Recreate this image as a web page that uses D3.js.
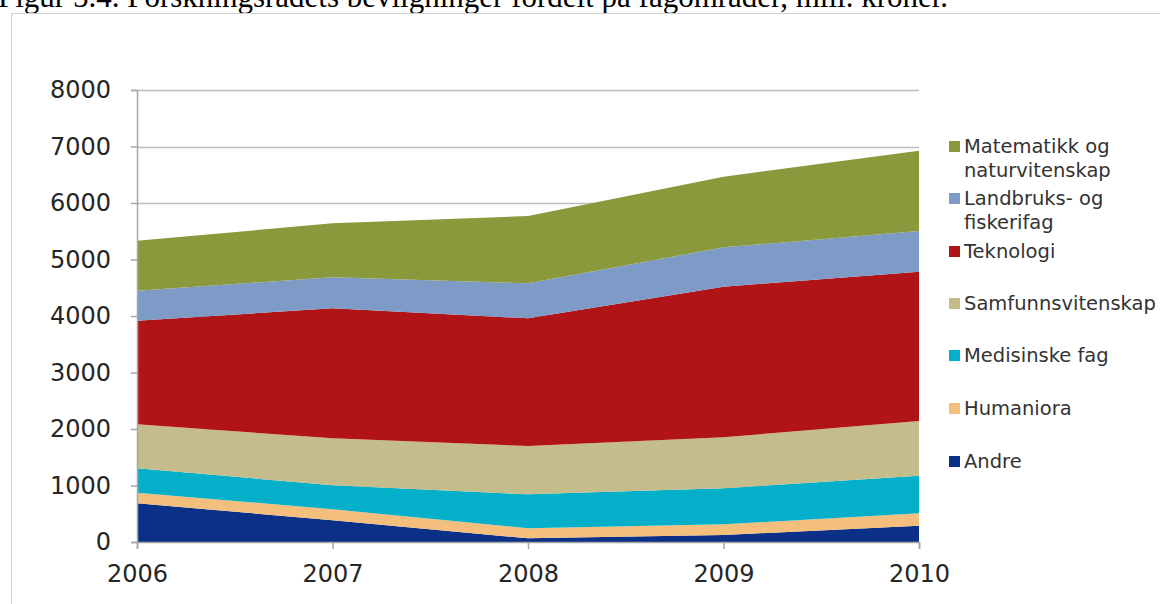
<!DOCTYPE html>
<html>
<head>
<meta charset="utf-8">
<script src="https://cdn.jsdelivr.net/npm/d3@7"></script>
<style>
  body { margin: 0; background: #fff; }
  svg { display: block; }
</style>
</head>
<body>
<svg id="chart" width="1160" height="604"></svg>
<script>
// data (mill. kroner)
const years = [2006, 2007, 2008, 2009, 2010];
const andre = [685, 385, 65, 124, 289];
const humaniora = [188, 195, 177, 189, 219];
const medisinske = [431, 425, 602, 637, 666];
const samfunn = [779, 830, 855, 903, 968];
const teknologi = [1834, 2301, 2260, 2666, 2643];
const landbruk = [531, 549, 619, 696, 719];
const matematikk = [885, 955, 1192, 1251, 1422];
const yTicks = [0, 1000, 2000, 3000, 4000, 5000, 6000, 7000, 8000];

const series = [
  { key: 'andre', label: ['Andre'], values: andre, color: '#0b3088' },
  { key: 'hum', label: ['Humaniora'], values: humaniora, color: '#f4be7d' },
  { key: 'med', label: ['Medisinske fag'], values: medisinske, color: '#04b0c9' },
  { key: 'sam', label: ['Samfunnsvitenskap'], values: samfunn, color: '#c5bc8b' },
  { key: 'tek', label: ['Teknologi'], values: teknologi, color: '#b11416' },
  { key: 'land', label: ['Landbruks- og', 'fiskerifag'], values: landbruk, color: '#7e9bc8' },
  { key: 'mat', label: ['Matematikk og', 'naturvitenskap'], values: matematikk, color: '#8a993b' }
];

const rows = years.map((y, i) => {
  const r = { year: y };
  series.forEach(s => r[s.key] = s.values[i]);
  return r;
});

const svg = d3.select('#chart');

// title (cut off at the top in the original)
svg.append('text')
  .attr('x', -2)
  .attr('y', 7)
  .attr('font-family', '"Liberation Serif", "Times New Roman", serif')
  .attr('font-size', 31)
  .attr('fill', '#000')
  .text('Figur 5.4. Forskningsrådets bevilgninger fordelt på fagområder, mill. kroner.');

// chart frame
svg.append('rect')
  .attr('x', 11.5).attr('y', 13.5)
  .attr('width', 1200).attr('height', 700)
  .attr('fill', 'none')
  .attr('stroke', '#d0d0d0');

const x = d3.scaleLinear().domain([2006, 2010]).range([137, 919]);
const y = d3.scaleLinear().domain([0, 8000]).range([542, 90]);

// gridlines
svg.append('g')
  .selectAll('line')
  .data(yTicks.filter(d => d > 0))
  .join('line')
  .attr('x1', 137).attr('x2', 919)
  .attr('y1', d => Math.round(y(d)) + 0.5)
  .attr('y2', d => Math.round(y(d)) + 0.5)
  .attr('stroke', '#bdbdbd')
  .attr('stroke-width', 1.5);

const stack = d3.stack().keys(series.map(s => s.key));
const layers = stack(rows);

const area = d3.area()
  .x(d => x(d.data.year))
  .y0(d => y(d[0]))
  .y1(d => y(d[1]));

svg.append('g')
  .selectAll('path')
  .data(layers)
  .join('path')
  .attr('fill', (d, i) => series[i].color)
  .attr('d', area);

// y axis
const yAxis = svg.append('g')
  .attr('transform', 'translate(137,0)')
  .call(d3.axisLeft(y).tickValues(yTicks).tickSize(6).tickPadding(20).tickFormat(d3.format('d')));
yAxis.select('.domain').attr('stroke', '#a6a6a6').attr('stroke-width', 1.5);
yAxis.selectAll('.tick line').attr('stroke', '#a6a6a6').attr('stroke-width', 1.5);
yAxis.selectAll('text')
  .attr('font-family', '"DejaVu Sans", Verdana, sans-serif')
  .attr('font-size', 24)
  .attr('fill', '#262626');

// x axis
const xAxis = svg.append('g')
  .attr('transform', 'translate(0,542)')
  .call(d3.axisBottom(x).tickValues(years).tickSize(7).tickPadding(16).tickFormat(d3.format('d')));
xAxis.select('.domain').attr('stroke', '#a6a6a6').attr('stroke-width', 1.5);
xAxis.selectAll('.tick line').attr('stroke', '#a6a6a6').attr('stroke-width', 1.5);
xAxis.selectAll('text')
  .attr('font-family', '"DejaVu Sans", Verdana, sans-serif')
  .attr('font-size', 24)
  .attr('fill', '#262626');

// legend
const legendY = { mat: 146, land: 198, tek: 251, sam: 303, med: 355, hum: 408, andre: 461 };
const legend = svg.append('g');
series.slice().reverse().forEach(s => {
  const g = legend.append('g').attr('transform', `translate(0,${legendY[s.key]})`);
  g.append('rect')
    .attr('x', 949).attr('y', -5)
    .attr('width', 11).attr('height', 11)
    .attr('fill', s.color);
  g.append('text')
    .attr('x', 964)
    .attr('font-family', '"DejaVu Sans", Verdana, sans-serif')
    .attr('font-size', 19.5)
    .attr('fill', '#333')
    .selectAll('tspan')
    .data(s.label)
    .join('tspan')
    .attr('x', 964)
    .attr('y', (d, i) => 7 + i * 24)
    .text(d => d);
});
</script>
</body>
</html>
